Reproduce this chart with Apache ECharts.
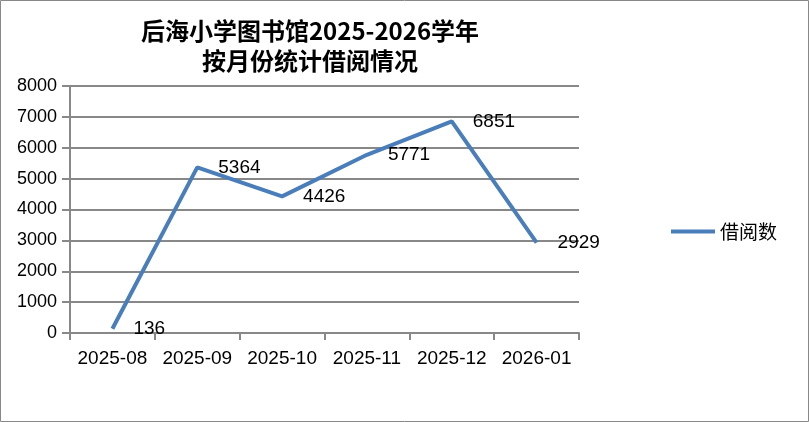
<!DOCTYPE html>
<html><head><meta charset="utf-8">
<script src="https://cdn.jsdelivr.net/npm/echarts@6/dist/echarts.min.js"></script>
<style>html,body{margin:0;padding:0;background:#fff}#c{width:809px;height:422px}</style>
</head><body><div id="c"></div>
<script>
const categories = ['2025-08','2025-09','2025-10','2025-11','2025-12','2026-01'];
const values = [136, 5364, 4426, 5771, 6851, 2929];
const seriesName = '借阅数';
const titleLines = ['后海小学图书馆2025-2026学年', '按月份统计借阅情况'];
const yTicks = {min: 0, max: 8000, interval: 1000};

const lineColor = '#4A7EBB';
const chart = echarts.init(document.getElementById('c'), null, {renderer:'canvas'});
const font = 'Liberation Sans, Arial, sans-serif';
chart.setOption({
  animation: false,
  backgroundColor: '#fff',
  title: {
    text: titleLines.join('\n'),
    left: 305, top: 11, textAlign: 'center',
    textStyle: {fontFamily: 'Noto Sans CJK SC', fontWeight: 'bold', fontSize: 24, lineHeight: 30, color: '#000'}
  },
  graphic: [{type:'rect', shape:{x:0.5,y:0.5,width:808,height:421}, style:{fill:'none', stroke:'#888', lineWidth:1}, silent:true}],
  legend: {
    data: [{name: seriesName, icon: 'rect', itemStyle: {color: lineColor}}], left: 666, top: 217, orient: 'vertical',
    itemWidth: 44, itemHeight: 4, itemGap: 8,
    textStyle: {fontFamily: 'Noto Sans CJK SC', fontSize: 19, color: '#000'}
  },
  grid: {left: 70, right: 230, top: 86, bottom: 89},
  xAxis: {
    type: 'category', data: categories, boundaryGap: true,
    axisLine: {lineStyle: {color: '#888', width: 2}},
    axisTick: {show: true, length: 7, interval: 0, lineStyle: {color: '#888', width: 2}},
    axisLabel: {color: '#000', fontFamily: font, fontSize: 19, margin: 16, interval: 0}
  },
  yAxis: {
    type: 'value', min: yTicks.min, max: yTicks.max, interval: yTicks.interval,
    axisLine: {show: true, lineStyle: {color: '#888', width: 2}},
    axisTick: {show: true, length: 8, lineStyle: {color: '#888', width: 2}},
    splitLine: {lineStyle: {color: '#888', width: 2}},
    axisLabel: {color: '#000', fontFamily: font, fontSize: 18, margin: 13, formatter: v => String(v)}
  },
  series: [{
    name: seriesName, type: 'line', data: values,
    symbol: 'circle', symbolSize: 0, showSymbol: true,
    lineStyle: {color: lineColor, width: 4},
    itemStyle: {color: lineColor},
    label: {show: true, position: 'right', distance: 21, color: '#000', fontFamily: font, fontSize: 19}
  }]
});
</script></body></html>
